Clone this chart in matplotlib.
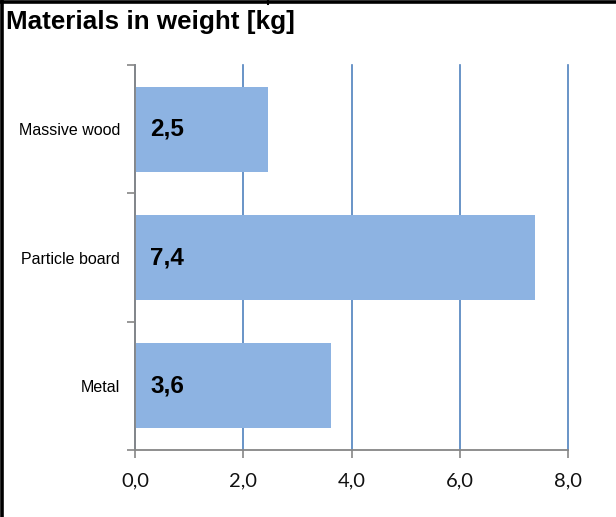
import matplotlib
matplotlib.use("Agg")
import matplotlib.pyplot as plt
from matplotlib.lines import Line2D

categories = ["Massive wood", "Particle board", "Metal"]
values = [2.46, 7.39, 3.62]
xticks = [0.0, 2.0, 4.0, 6.0, 8.0]
title = "Materials in weight [kg]"

W, H = 616, 517
fig = plt.figure(figsize=(W / 100, H / 100), dpi=100)
ax = fig.add_axes([135 / W, 1 - 450 / H, (568 - 135) / W, (450 - 65) / H])

ypos = list(range(len(categories)))
ax.barh(ypos, values, height=0.66, color="#8DB3E2", zorder=2)
ax.set_ylim(len(categories) - 0.5, -0.5)
ax.set_xlim(0, 8)

ax.set_xticks(xticks)
ax.set_xticklabels([f"{v:.1f}".replace(".", ",") for v in xticks],
                   fontfamily="Lato", fontsize=14.5, color="#111111")
ax.tick_params(axis="x", length=6, width=1.2, color="#868686", pad=10)

# y: labels at centers (no tick), ticks at boundaries
ax.set_yticks(ypos)
ax.set_yticklabels(categories, fontfamily="Liberation Sans", fontsize=11.5)
ax.tick_params(axis="y", which="major", length=0, pad=10.8)
ax.set_yticks([i - 0.5 for i in range(len(categories) + 1)], minor=True)
ax.tick_params(axis="y", which="minor", length=6, width=1.2, color="#868686")

ax.grid(axis="x", color="#4F81BD", linewidth=1.2, zorder=1)
for gl in ax.get_xgridlines():
    gl.set_clip_on(False)
ax.grid(axis="y", visible=False)
for s in ["top", "right"]:
    ax.spines[s].set_visible(False)
for s in ["left", "bottom"]:
    ax.spines[s].set_color("#868686")
    ax.spines[s].set_linewidth(1.3)
    ax.spines[s].set_zorder(3)

for y, v in zip(ypos, values):
    ax.text(0.28, y, f"{v:.1f}".replace(".", ","), va="center", ha="left",
            fontfamily="Liberation Sans", fontweight="bold", fontsize=17.5,
            color="black", zorder=4)

fig.text(6 / W, 1 - 22 / H, title, fontfamily="Liberation Sans",
         fontweight="bold", fontsize=18.7, va="center", ha="left")

# frame lines
fig.add_artist(Line2D([0, 1], [1 - 1.5 / H, 1 - 1.5 / H], color="black",
                      linewidth=2.6, transform=fig.transFigure))
fig.add_artist(Line2D([1.5 / W, 1.5 / W], [0, 1], color="black",
                      linewidth=2.6, transform=fig.transFigure))
fig.add_artist(Line2D([268 / W, 268 / W], [1, 1 - 4 / H], color="black",
                      linewidth=1.5, transform=fig.transFigure))

fig.savefig("out.png", dpi=100)
